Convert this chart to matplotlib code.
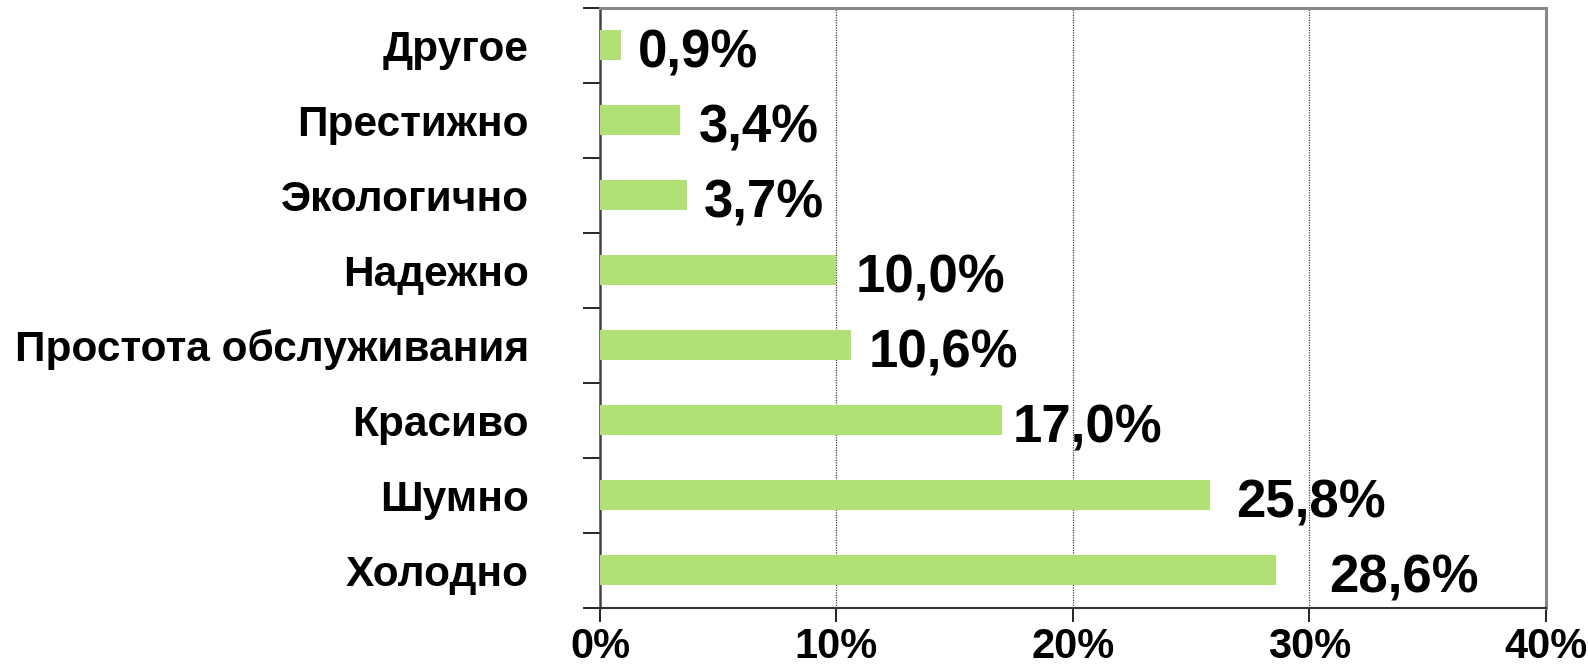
import matplotlib
matplotlib.use("Agg")
import matplotlib.pyplot as plt
import numpy as np

# shares of answers, bottom-to-top in drawing order
categories = ["Холодно", "Шумно", "Красиво", "Простота обслуживания",
              "Надежно", "Экологично", "Престижно", "Другое"]
values = [28.6, 25.8, 17.0, 10.6, 10.0, 3.7, 3.4, 0.9]
x_ticks = [0, 10, 20, 30, 40]

# horizontal nudge of each value label from its bar end (points)
label_gap = [38, 19, 8, 13, 14, 12, 13, 12]

BAR = "#B1E175"

plt.rcParams["font.family"] = ["Liberation Sans", "DejaVu Sans"]
plt.rcParams["font.weight"] = "bold"

fig = plt.figure(figsize=(15.88, 6.66), dpi=100)
ax = fig.add_axes([0.3778, 0.0871, 0.9735 - 0.3778, 0.988 - 0.0871])

y = np.arange(len(categories))
ax.barh(y, values, height=0.4, color=BAR, zorder=3)

for yi, v, g in zip(y, values, label_gap):
    ax.annotate(f"{v:.1f}%".replace(".", ","), xy=(v, yi),
                xytext=(g, -6), textcoords="offset points",
                ha="left", va="center", fontsize=38, fontweight="bold",
                zorder=4)

ax.set_xlim(0, 40)
ax.set_ylim(-0.5, len(categories) - 0.5)

ax.set_xticks(x_ticks)
ax.set_xticklabels([f"{t}%" for t in x_ticks], fontsize=30, fontweight="bold")
ax.tick_params(axis="x", direction="out", length=10, width=1.2, color="black", pad=4)

# category names on major ticks (no marks), tick marks on category boundaries
ax.set_yticks(y)
ax.set_yticklabels(categories, fontsize=30.5, fontweight="bold")
ax.tick_params(axis="y", which="major", length=0, pad=51)
ax.set_yticks(np.arange(-0.5, len(categories)), minor=True)
ax.tick_params(axis="y", which="minor", direction="out", length=12, width=1.2, color="black")

for gx in x_ticks[1:-1]:
    ax.axvline(gx, color="#444444", lw=0.9, ls=(0, (1, 1)), zorder=1)

ax.spines["left"].set_color("#444444")
ax.spines["left"].set_linewidth(1.8)
ax.spines["bottom"].set_color("#333333")
ax.spines["bottom"].set_linewidth(1.5)
for side in ("top", "right"):
    ax.spines[side].set_color("#888888")
    ax.spines[side].set_linewidth(2.2)

fig.savefig("out.png", dpi=100)
